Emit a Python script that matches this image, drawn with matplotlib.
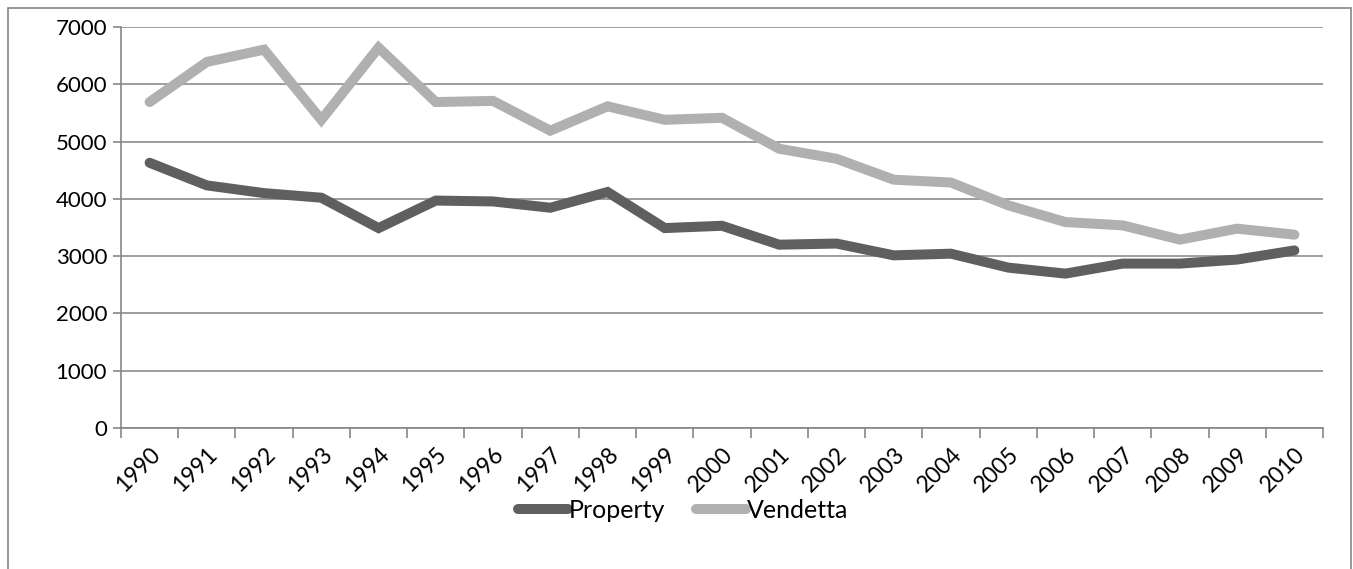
import matplotlib
matplotlib.use('agg')
import matplotlib.pyplot as plt
from matplotlib.patches import Rectangle
import numpy as np

years = [str(y) for y in range(1990, 2011)]
property_crimes = [4630, 4235, 4100, 4020, 3490, 3970, 3955, 3845, 4120, 3490, 3530,
                   3200, 3220, 3014, 3043, 2800, 2695, 2870, 2870, 2940, 3100]
vendetta = [5690, 6390, 6605, 5380, 6640, 5690, 5710, 5190, 5615, 5380, 5415,
            4875, 4700, 4335, 4285, 3887, 3595, 3537, 3288, 3480, 3375]

plt.rcParams['font.family'] = ['Lato', 'DejaVu Sans']
W, H = 1353, 569
fig = plt.figure(figsize=(W / 100, H / 100), dpi=100)
ax = fig.add_axes([121 / W, 1 - 428 / H, (1323 - 121) / W, (428 - 27) / H])

# outer chart frame
fig.patches.append(Rectangle((8 / W, -0.05), (1351 - 8) / W, 1.05 - 8 / H,
                             transform=fig.transFigure, fill=False,
                             edgecolor='#868686', linewidth=1.2))

x = np.arange(len(years))
ax.plot(x, property_crimes, color='#5f5f5f', linewidth=7.2, label='Property',
        solid_capstyle='round', solid_joinstyle='miter')
ax.plot(x, vendetta, color='#b0b0b0', linewidth=7.2, label='Vendetta',
        solid_capstyle='round', solid_joinstyle='miter')

ax.set_xlim(-0.5, len(years) - 0.5)
ax.set_ylim(0, 7000)
ax.set_yticks(range(0, 7001, 1000))
ax.yaxis.grid(True, color='#8c8c8c', linewidth=1.2)
ax.set_axisbelow(True)

ax.set_xticks(np.arange(-0.5, len(years)), minor=False)
ax.set_xticklabels([])
ax.set_xticks(x, minor=True)
ax.set_xticklabels(years, minor=True, rotation=45, ha='right', va='top',
                   rotation_mode='anchor', fontsize=16.5)
ax.tick_params(axis='x', which='major', length=7, width=1.2, color='#868686', direction='out')
ax.tick_params(axis='x', which='minor', length=0, pad=11)
ax.tick_params(axis='y', length=6, width=1.2, color='#868686', labelsize=16, pad=4)

for s in ['top', 'right']:
    ax.spines[s].set_visible(False)
for s in ['left', 'bottom']:
    ax.spines[s].set_color('#868686')
    ax.spines[s].set_linewidth(1.2)

fig.legend(loc='center', bbox_to_anchor=(683 / W, 1 - 510 / H), ncol=2, frameon=False,
           fontsize=18, handlelength=2.0, handletextpad=0.05, columnspacing=1.2)

fig.savefig('out.png', dpi=100)
